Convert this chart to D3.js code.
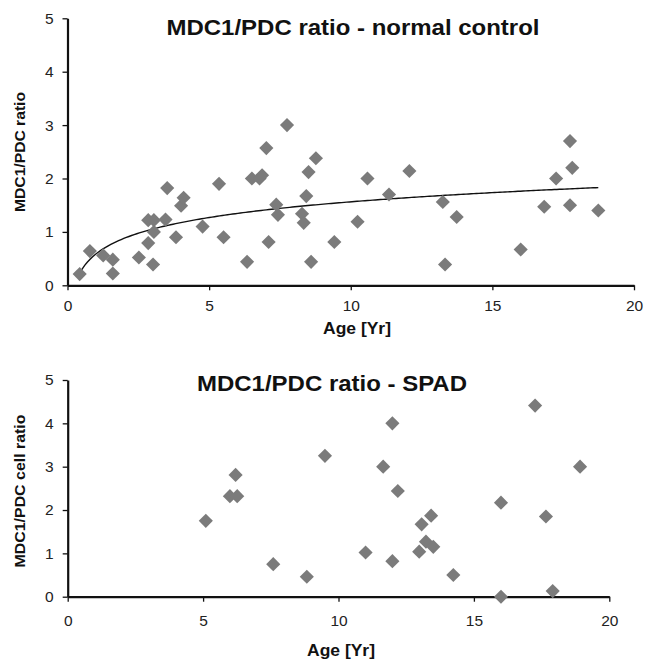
<!DOCTYPE html>
<html>
<head>
<meta charset="utf-8">
<script src="https://cdn.jsdelivr.net/npm/d3@7"></script>
<style>
  html, body { margin: 0; padding: 0; background: #fff; }
  svg { display: block; font-family: "Liberation Sans", Arial, sans-serif; }
</style>
</head>
<body>
<svg id="chart" width="645" height="661"></svg>
<script>
// ---- Data ----
const xTicks = [0, 5, 10, 15, 20];
const yTicks = [0, 1, 2, 3, 4, 5];

const controlAge = [0.43, 0.79, 1.26, 1.60, 1.60, 2.52, 2.85, 2.85, 3.05, 3.05, 3.02, 3.46, 3.52, 3.83, 4.01, 4.10,
  4.77, 5.35, 5.51, 6.34, 6.51, 6.78, 6.87, 7.02, 7.10, 7.37, 7.43, 7.75, 8.28, 8.34, 8.43, 8.51, 8.60, 8.77, 9.42,
  10.24, 10.59, 11.35, 12.07, 13.25, 13.33, 13.74, 16.0, 16.83, 17.25, 17.74, 17.82, 17.74, 18.74];
const controlRatio = [0.21, 0.64, 0.56, 0.48, 0.22, 0.52, 0.79, 1.22, 1.22, 1.00, 0.39, 1.23, 1.82, 0.90, 1.49, 1.64,
  1.10, 1.90, 0.90, 0.44, 2.00, 2.00, 2.06, 2.57, 0.81, 1.51, 1.32, 3.00, 1.34, 1.17, 1.67, 2.12, 0.44, 2.38, 0.81,
  1.19, 2.00, 1.70, 2.14, 1.56, 0.39, 1.28, 0.67, 1.47, 2.00, 2.70, 2.20, 1.50, 1.40];

const spadAge = [5.10, 5.99, 6.20, 6.26, 7.59, 8.83, 9.50, 11.0, 11.65, 11.99, 11.99, 12.19, 12.98, 13.07, 13.23,
  13.42, 13.50, 14.24, 16.0, 16.0, 17.26, 17.66, 17.91, 18.92];
const spadRatio = [1.75, 2.32, 2.81, 2.32, 0.75, 0.46, 3.25, 1.02, 3.00, 4.00, 0.82, 2.44, 1.04, 1.67, 1.27,
  1.87, 1.15, 0.50, 2.17, 0.00, 4.41, 1.85, 0.13, 3.00];

// ---- Drawing ----
const svg = d3.select("#chart");
const markerColor = "#7b7b7b";

function panel(cfg) {
  const x = d3.scaleLinear().domain([0, 20]).range([cfg.left, cfg.right]);
  const y = d3.scaleLinear().domain([0, 5]).range([cfg.bottom, cfg.top]);
  const g = svg.append("g");

  // axes
  const xa = g.append("g").attr("transform", `translate(0,${cfg.bottom})`)
    .call(d3.axisBottom(x).tickValues(xTicks).tickFormat(d3.format("d")).tickSize(5).tickPadding(cfg.xPad).tickSizeOuter(0));
  const ya = g.append("g").attr("transform", `translate(${cfg.left},0)`)
    .call(d3.axisLeft(y).tickValues(yTicks).tickFormat(d3.format("d")).tickSize(5).tickPadding(9).tickSizeOuter(0));
  [xa, ya].forEach(a => {
    a.select(".domain").attr("stroke", "#111").attr("stroke-width", 2.2);
    a.selectAll(".tick line").attr("stroke", "#111").attr("stroke-width", 1.3);
    a.selectAll(".tick text").attr("font-size", 15.5).attr("fill", "#222")
      .attr("font-family", "'Liberation Sans', Arial, sans-serif");
  });

  // trend line (logarithmic fit)
  if (cfg.trend) {
    const lx = cfg.ages.map(Math.log);
    const mx = d3.mean(lx), my = d3.mean(cfg.vals);
    let sxy = 0, sxx = 0;
    lx.forEach((v, i) => { sxy += (v - mx) * (cfg.vals[i] - my); sxx += (v - mx) * (v - mx); });
    const b = sxy / sxx, a = my - b * mx;
    const x0 = d3.min(cfg.ages), x1 = d3.max(cfg.ages);
    const pts = d3.range(0, 201).map(i => x0 + (x1 - x0) * i / 200);
    g.append("path")
      .attr("d", d3.line().x(d => x(d)).y(d => y(a + b * Math.log(d)))(pts))
      .attr("fill", "none").attr("stroke", "#111").attr("stroke-width", 1.4);
  }

  // markers
  const sym = d3.symbol().type(d3.symbolSquare).size(100);
  g.selectAll("path.pt").data(cfg.ages.map((a, i) => [a, cfg.vals[i]])).join("path")
    .attr("class", "pt")
    .attr("d", sym)
    .attr("transform", d => `translate(${x(d[0])},${y(d[1])}) rotate(45)`)
    .attr("fill", markerColor);

  // titles
  g.append("text").attr("x", cfg.titleX).attr("y", cfg.titleY)
    .attr("text-anchor", "middle").attr("font-size", 22).attr("font-weight", "bold").attr("fill", "#111")
    .attr("textLength", cfg.titleLen).attr("lengthAdjust", "spacingAndGlyphs")
    .text(cfg.title);
  g.append("text").attr("x", cfg.xTitleX).attr("y", cfg.xTitleY)
    .attr("text-anchor", "middle").attr("font-size", 16).attr("font-weight", "bold").attr("fill", "#111")
    .attr("textLength", 68).attr("lengthAdjust", "spacingAndGlyphs")
    .text("Age [Yr]");
  g.append("text")
    .attr("transform", `translate(${cfg.yTitleX},${cfg.yTitleY}) rotate(-90)`)
    .attr("text-anchor", "middle").attr("font-size", 14.5).attr("font-weight", "bold").attr("fill", "#111")
    .attr("textLength", cfg.yTitleLen).attr("lengthAdjust", "spacingAndGlyphs")
    .text(cfg.yTitle);
}

panel({
  left: 67.5, right: 634, top: 18.3, bottom: 285.3, xPad: 10,
  ages: controlAge, vals: controlRatio, trend: true,
  title: "MDC1/PDC ratio - normal control", titleX: 353, titleY: 35, titleLen: 373,
  xTitleX: 357, xTitleY: 334, yTitleX: 25, yTitleY: 152, yTitle: "MDC1/PDC ratio", yTitleLen: 120
});

panel({
  left: 67.7, right: 609.3, top: 380, bottom: 596.7, xPad: 13,
  ages: spadAge, vals: spadRatio, trend: false,
  title: "MDC1/PDC ratio - SPAD", titleX: 332, titleY: 391, titleLen: 270,
  xTitleX: 341, xTitleY: 656, yTitleX: 25, yTitleY: 491, yTitle: "MDC1/PDC cell ratio", yTitleLen: 153
});
</script>
</body>
</html>
